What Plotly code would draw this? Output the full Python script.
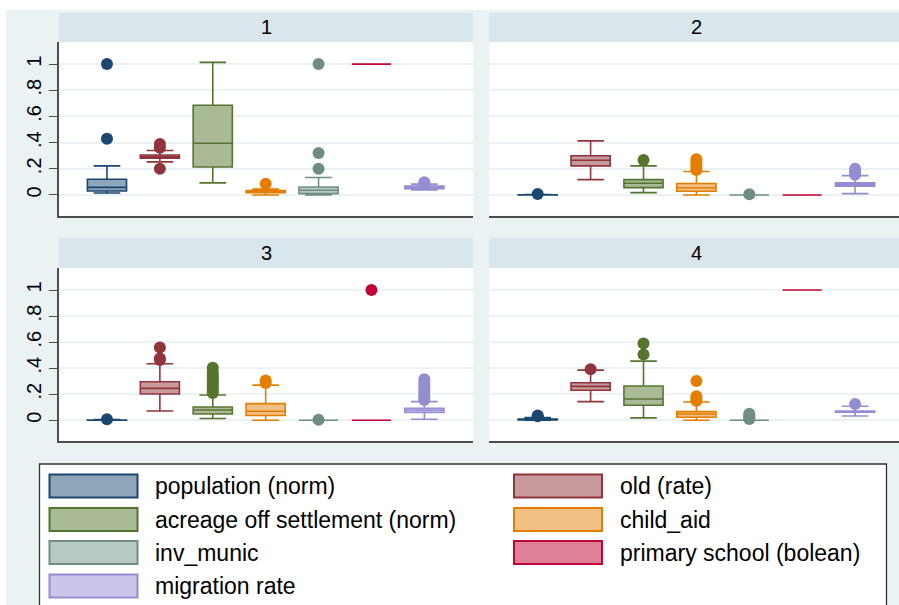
import plotly.graph_objects as go

W, H = 899, 605

SERIES = ["population (norm)", "old (rate)", "acreage off settlement (norm)", "child_aid",
          "inv_munic", "primary school (bolean)", "migration rate"]
LINE_COLORS = ["#1A476F", "#90353B", "#55752F", "#E37E00", "#6E8E84", "#C10534", "#938DD2"]
FILL_COLORS = ["#8FA5BA", "#C8999D", "#AABA97", "#F2C084", "#B8C8C2", "#E08096", "#C9C6E9"]
PANELS = ["1", "2", "3", "4"]
Y_TICKS = [0, 0.2, 0.4, 0.6, 0.8, 1]
Y_TICK_TEXT = ["0", ".2", ".4", ".6", ".8", "1"]

# panel 1
P1_LO = [0.015, 0.253, 0.092, 0.0, 0.0, 1.0, 0.038]
P1_Q1 = [0.030, 0.280, 0.214, 0.018, 0.010, 1.0, 0.048]
P1_MED = [0.058, 0.292, 0.395, 0.024, 0.036, 1.0, 0.058]
P1_Q3 = [0.120, 0.305, 0.686, 0.034, 0.061, 1.0, 0.068]
P1_HI = [0.222, 0.340, 1.013, 0.046, 0.133, 1.0, 0.083]
P1_OUT = [[0.43, 1.0], [0.20, 0.36, 0.39], [], [0.085], [0.20, 0.32, 1.0], [], [0.092, 0.097]]

# panel 2
P2_LO = [0.0, 0.117, 0.018, 0.0, 0.0, 0.0, 0.010]
P2_Q1 = [0.0, 0.222, 0.056, 0.028, 0.0, 0.0, 0.066]
P2_MED = [0.0, 0.265, 0.090, 0.055, 0.0, 0.0, 0.079]
P2_Q3 = [0.002, 0.300, 0.117, 0.087, 0.0, 0.0, 0.092]
P2_HI = [0.004, 0.413, 0.222, 0.179, 0.0, 0.0, 0.148]
P2_OUT = [[0.008], [], [0.268], [0.19, 0.21, 0.23, 0.25, 0.273], [0.006], [],
          [0.155, 0.17, 0.185, 0.20]]

# panel 3
P3_LO = [0.0, 0.071, 0.013, 0.0, 0.0, 0.0, 0.008]
P3_Q1 = [0.0, 0.202, 0.048, 0.036, 0.0, 0.0, 0.059]
P3_MED = [0.0, 0.245, 0.079, 0.069, 0.0, 0.0, 0.077]
P3_Q3 = [0.002, 0.296, 0.102, 0.128, 0.0, 0.0, 0.092]
P3_HI = [0.005, 0.434, 0.194, 0.270, 0.0, 0.0, 0.143]
P3_OUT = [[0.008], [0.462, 0.475, 0.559],
          [0.21, 0.23, 0.25, 0.27, 0.29, 0.31, 0.33, 0.35, 0.37, 0.403],
          [0.286, 0.306], [0.003], [1.0],
          [0.155, 0.17, 0.19, 0.21, 0.23, 0.25, 0.27, 0.29, 0.314]]

# panel 4
P4_LO = [0.0, 0.143, 0.018, 0.0, 0.0, 1.0, 0.033]
P4_Q1 = [0.003, 0.230, 0.115, 0.023, 0.0, 1.0, 0.061]
P4_MED = [0.006, 0.260, 0.163, 0.048, 0.0, 1.0, 0.066]
P4_Q3 = [0.010, 0.288, 0.263, 0.066, 0.0, 1.0, 0.071]
P4_HI = [0.020, 0.385, 0.454, 0.140, 0.0, 1.0, 0.107]
P4_OUT = [[0.03, 0.037], [0.392], [0.505, 0.589], [0.15, 0.165, 0.184, 0.301],
          [0.01, 0.02, 0.03, 0.04, 0.05], [], [0.125]]

STATS = [
    (P1_LO, P1_Q1, P1_MED, P1_Q3, P1_HI, P1_OUT),
    (P2_LO, P2_Q1, P2_MED, P2_Q3, P2_HI, P2_OUT),
    (P3_LO, P3_Q1, P3_MED, P3_Q3, P3_HI, P3_OUT),
    (P4_LO, P4_Q1, P4_MED, P4_Q3, P4_HI, P4_OUT),
]


def fx(px):
    return px / W


def fy(py):
    return 1 - py / H


# panel pixel boxes of plot areas
COLS = [(59, 473), (489.3, 899)]
ROWS = [(42, 215.5), (268, 440.7)]
STRIPS = [(13, 42), (238, 268)]
XRANGES = [[0.093, 7.92], [0.085, 7.83]]
YRANGE = [-0.157, 1.169]

fig = go.Figure()
layout = dict(
    width=W, height=H, margin=dict(l=0, r=0, t=0, b=0),
    paper_bgcolor="#EAF2F3", plot_bgcolor="white", showlegend=False,
    font=dict(family="Liberation Sans, Arial, sans-serif", color="black"),
)
shapes = []
annotations = []

# white border strips outside graph region
shapes.append(dict(type="rect", xref="paper", yref="paper", x0=0, x1=1, y0=fy(10), y1=1,
                   fillcolor="white", line=dict(width=0), layer="below"))
shapes.append(dict(type="rect", xref="paper", yref="paper", x0=0, x1=fx(6), y0=0, y1=1,
                   fillcolor="white", line=dict(width=0), layer="below"))

for p in range(4):
    r, c = divmod(p, 2)
    idx = "" if p == 0 else str(p + 1)
    xa, ya = "x" + idx, "y" + idx
    x0, x1 = COLS[c]
    yt, yb = ROWS[r]
    left = c == 0
    layout["xaxis" + idx] = dict(
        domain=[fx(x0), fx(x1)], range=XRANGES[c], anchor=ya,
        showgrid=False, zeroline=False, showticklabels=False, ticks="",
        showline=True, linecolor="#4D4D4D", linewidth=1.5, fixedrange=True)
    layout["yaxis" + idx] = dict(
        domain=[fy(yb), fy(yt)], range=YRANGE, anchor=xa,
        tickvals=Y_TICKS, ticktext=Y_TICK_TEXT, tickangle=-90,
        showticklabels=left, ticks="outside" if left else "", ticklen=8,
        tickcolor="#4D4D4D", tickwidth=1,
        tickfont=dict(size=20, color="black"),
        showgrid=True, gridcolor="#EAF2F3", gridwidth=1.5, zeroline=False,
        showline=left, linecolor="#4D4D4D", linewidth=1.5, fixedrange=True)
    # strip
    sy0, sy1 = STRIPS[r]
    shapes.append(dict(type="rect", xref="paper", yref="paper",
                       x0=fx(x0), x1=fx(x1), y0=fy(sy1), y1=fy(sy0),
                       fillcolor="#D9E6EB", line=dict(width=0)))
    annotations.append(dict(text=PANELS[p], xref="paper", yref="paper",
                            x=fx((x0 + x1 + (4 if c == 1 else 0)) / 2), y=fy((sy0 + sy1) / 2),
                            showarrow=False, font=dict(size=20, color="black"),
                            xanchor="center", yanchor="middle"))

    lo, q1, med, q3, hi, out = STATS[p]
    for i in range(7):
        fig.add_trace(go.Box(
            x=[i + 1], q1=[q1[i]], median=[med[i]], q3=[q3[i]],
            lowerfence=[lo[i]], upperfence=[hi[i]],
            width=0.74, whiskerwidth=0.68, boxpoints=False,
            line=dict(color=LINE_COLORS[i], width=1.6), fillcolor=FILL_COLORS[i],
            xaxis=xa, yaxis=ya, name=SERIES[i], hoverinfo="skip"))
        if out[i]:
            fig.add_trace(go.Scatter(
                x=[i + 1] * len(out[i]), y=out[i], mode="markers",
                marker=dict(size=12, color=LINE_COLORS[i], line=dict(width=0)),
                xaxis=xa, yaxis=ya, hoverinfo="skip"))

# legend box
shapes.append(dict(type="rect", xref="paper", yref="paper",
                   x0=fx(39.5), x1=fx(886.5), y0=fy(620), y1=fy(464),
                   fillcolor="white", line=dict(color="#333333", width=1.3)))
LEG_COL_X = [(49.5, 137.5, 153), (514, 602, 618)]
LEG_ROW_Y = [486, 519.5, 552.5, 586]
for i, name in enumerate(SERIES):
    row, col = divmod(i, 2)
    sx0, sx1, tx = LEG_COL_X[col]
    cy = LEG_ROW_Y[row]
    shapes.append(dict(type="rect", xref="paper", yref="paper",
                       x0=fx(sx0), x1=fx(sx1), y0=fy(cy + 11.5), y1=fy(cy - 11.5),
                       fillcolor=FILL_COLORS[i], line=dict(color=LINE_COLORS[i], width=2)))
    annotations.append(dict(text=name, xref="paper", yref="paper", x=fx(tx), y=fy(cy),
                            showarrow=False, xanchor="left", yanchor="middle",
                            font=dict(size=23, color="black")))

layout["shapes"] = shapes
layout["annotations"] = annotations
fig.update_layout(**layout)
fig.write_html("out.html", config={"displayModeBar": False},
               post_script="document.body.style.margin='0';document.body.style.overflow='hidden';")
